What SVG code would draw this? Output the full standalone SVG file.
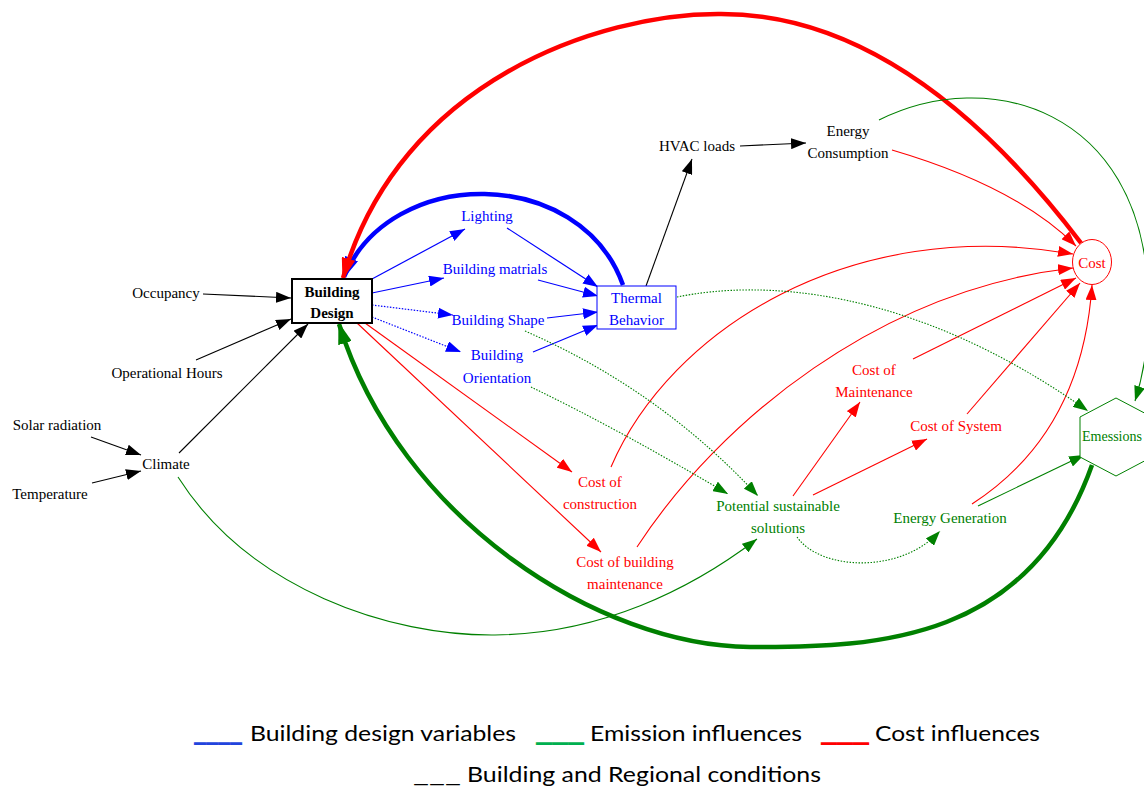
<svg xmlns="http://www.w3.org/2000/svg" width="1144" height="787" viewBox="0 0 1144 787">
<style>
text{font-family:"Liberation Serif","Times New Roman",serif;font-size:15px;text-anchor:middle}
.k{fill:#000}.b{fill:#0000ff}.r{fill:#ff0000}.g{fill:#008000}
.c path{fill:none}
.sk{stroke:#000;stroke-width:1.1}
.sb{stroke:#0000ff;stroke-width:1.2}
.sr{stroke:#ff0000;stroke-width:1.1}
.sg{stroke:#008000;stroke-width:1.1}
.dot{stroke-dasharray:1.5 1.5}
.lg{font-family:Lato,"Open Sans",sans-serif;font-size:22px;text-anchor:start}
.us{stroke-width:1.6}
</style>
<defs>
<marker id="ak" viewBox="0 0 15 11" refX="15" refY="5.5" markerWidth="15" markerHeight="11" markerUnits="userSpaceOnUse" orient="auto"><path d="M0,0L15,5.5L0,11z" fill="#000"/></marker>
<marker id="ab" viewBox="0 0 15 11" refX="15" refY="5.5" markerWidth="15" markerHeight="11" markerUnits="userSpaceOnUse" orient="auto"><path d="M0,0L15,5.5L0,11z" fill="#0000ff"/></marker>
<marker id="ar" viewBox="0 0 15 11" refX="15" refY="5.5" markerWidth="15" markerHeight="11" markerUnits="userSpaceOnUse" orient="auto"><path d="M0,0L15,5.5L0,11z" fill="#ff0000"/></marker>
<marker id="ag" viewBox="0 0 15 11" refX="15" refY="5.5" markerWidth="15" markerHeight="11" markerUnits="userSpaceOnUse" orient="auto"><path d="M0,0L15,5.5L0,11z" fill="#008000"/></marker>
<marker id="abB" viewBox="0 0 22 14" refX="20" refY="7" markerWidth="22" markerHeight="14" markerUnits="userSpaceOnUse" orient="auto"><path d="M0,0L22,7L0,14z" fill="#0000ff"/></marker>
<marker id="arB" viewBox="0 0 22 14" refX="20" refY="7" markerWidth="22" markerHeight="14" markerUnits="userSpaceOnUse" orient="auto"><path d="M0,0L22,7L0,14z" fill="#ff0000"/></marker>
<marker id="agB" viewBox="0 0 22 14" refX="20" refY="7" markerWidth="22" markerHeight="14" markerUnits="userSpaceOnUse" orient="auto"><path d="M0,0L22,7L0,14z" fill="#008000"/></marker>
</defs>
<rect width="1144" height="787" fill="#fff"/>

<g id="connectors" class="c">
<path class="sk" d="M203,294 L291,298" marker-end="url(#ak)"/>
<path class="sk" d="M196,360 L291,319" marker-end="url(#ak)"/>
<path class="sk" d="M179,453 L308,324" marker-end="url(#ak)"/>
<path class="sk" d="M91,437 L141,455" marker-end="url(#ak)"/>
<path class="sk" d="M92,483 L141,471" marker-end="url(#ak)"/>
<path class="sk" d="M646,286 L692,159" marker-end="url(#ak)"/>
<path class="sk" d="M740,146 L806,143" marker-end="url(#ak)"/>

<path class="sb" d="M372,279 L465,229" marker-end="url(#ab)"/>
<path class="sb" d="M372,293 L444,278" marker-end="url(#ab)"/>
<path class="sb dot" d="M372,305 L453,315" marker-end="url(#ab)"/>
<path class="sb dot" d="M372,317 L461,352" marker-end="url(#ab)"/>
<path class="sb" d="M507,228 L598,287" marker-end="url(#ab)"/>
<path class="sb" d="M538,280 L598,296" marker-end="url(#ab)"/>
<path class="sb" d="M547,318 L598,312" marker-end="url(#ab)"/>
<path class="sb" d="M533,352 L598,325" marker-end="url(#ab)"/>
<path d="M623,285 C580,165 390,165 344,277" stroke="#0000ff" stroke-width="4.5" marker-end="url(#abB)"/>

<path d="M1081,243 Q905,12 718,14 C600,14 400,80 343,278" stroke="#ff0000" stroke-width="4.5" marker-end="url(#arB)"/>
<path class="sr" d="M357,323 L601,552" marker-end="url(#ar)"/>
<path class="sr" d="M365,323 L572,472" marker-end="url(#ar)"/>
<path class="sr" d="M611,467 C670,330 850,215 1073,254" marker-end="url(#ar)"/>
<path class="sr" d="M637,547 C720,420 880,290 1073,268" marker-end="url(#ar)"/>
<path class="sr" d="M892,150 C960,170 1030,200 1076,246" marker-end="url(#ar)"/>
<path class="sr" d="M793,496 L860,402" marker-end="url(#ar)"/>
<path class="sr" d="M813,495 L927,439" marker-end="url(#ar)"/>
<path class="sr" d="M913,359 L1076,278" marker-end="url(#ar)"/>
<path class="sr" d="M967,414 L1080,283" marker-end="url(#ar)"/>
<path class="sr" d="M972,504 C1040,460 1085,390 1092,285" marker-end="url(#ar)"/>

<path d="M1092,465 C1030,640 880,648 750,647 C600,646 400,520 339,324" stroke="#008000" stroke-width="4.5" marker-end="url(#agB)"/>
<path class="sg" d="M178,477 C250,590 390,636 495,635 C600,634 690,590 757,539" marker-end="url(#ag)"/>
<path class="sg" d="M879,120 C990,65 1140,110 1148,290 C1150,330 1145,370 1135,401" marker-end="url(#ag)"/>
<path class="sg dot" d="M677,297 C760,280 910,285 1088,411" marker-end="url(#ag)"/>
<path class="sg dot" d="M525,331 Q660,390 758,496" marker-end="url(#ag)"/>
<path class="sg dot" d="M531,387 Q620,430 728,494" marker-end="url(#ag)"/>
<path class="sg dot" d="M797,537 C820,570 900,575 940,531" marker-end="url(#ag)"/>
<path class="sg" d="M978,506 L1084,455" marker-end="url(#ag)"/>
</g>

<g id="building-design">
<rect x="292" y="279" width="80" height="44" fill="#fff" stroke="#000" stroke-width="2"/>
<text x="332" y="297" class="k" font-weight="bold">Building</text>
<text x="332" y="318" class="k" font-weight="bold">Design</text>
</g>
<g id="occupancy"><text x="166" y="298" class="k">Occupancy</text></g>
<g id="operational-hours"><text x="167" y="378" class="k">Operational Hours</text></g>
<g id="solar-radiation"><text x="57" y="430" class="k">Solar radiation</text></g>
<g id="temperature"><text x="50" y="499" class="k">Temperature</text></g>
<g id="climate"><text x="166" y="469" class="k">Climate</text></g>
<g id="lighting"><text x="487" y="221" class="b">Lighting</text></g>
<g id="building-matrials"><text x="495" y="274" class="b">Building matrials</text></g>
<g id="building-shape"><text x="498" y="325" class="b">Building Shape</text></g>
<g id="building-orientation"><text x="497" y="360" class="b">Building</text><text x="497" y="383" class="b">Orientation</text></g>
<g id="thermal-behavior">
<rect x="597" y="286" width="79" height="43" fill="#fff" stroke="#0000ff" stroke-width="1"/>
<text x="636.5" y="303" class="b">Thermal</text>
<text x="636.5" y="325" class="b">Behavior</text>
</g>
<g id="hvac-loads"><text x="697" y="151" class="k">HVAC loads</text></g>
<g id="energy-consumption"><text x="848" y="136" class="k">Energy</text><text x="848" y="158" class="k">Consumption</text></g>
<g id="cost">
<ellipse cx="1092" cy="262" rx="19.5" ry="22.5" fill="#fff" stroke="#ff0000" stroke-width="1"/>
<text x="1092" y="268" class="r">Cost</text>
</g>
<g id="emessions">
<polygon points="1116,398 1152,417 1152,457 1116,476 1080,457 1080,417" fill="#fff" stroke="#008000" stroke-width="1"/>
<text x="1082" y="441" class="g" style="text-anchor:start" textLength="60" lengthAdjust="spacingAndGlyphs">Emessions</text>
</g>
<g id="cost-of-construction"><text x="600" y="487" class="r">Cost of</text><text x="600" y="509" class="r">construction</text></g>
<g id="cost-of-building-maintenance"><text x="625" y="567" class="r">Cost of building</text><text x="625" y="589" class="r">maintenance</text></g>
<g id="potential-sustainable-solutions"><text x="778" y="511" class="g">Potential sustainable</text><text x="778" y="533" class="g">solutions</text></g>
<g id="energy-generation"><text x="950" y="523" class="g">Energy Generation</text></g>
<g id="cost-of-maintenance"><text x="874" y="375" class="r">Cost of</text><text x="874" y="397" class="r">Maintenance</text></g>
<g id="cost-of-system"><text x="956" y="431" class="r">Cost of System</text></g>

<g id="legend">
<text x="194" y="741" class="lg us" fill="#2244dd" stroke="#2244dd" textLength="48" lengthAdjust="spacingAndGlyphs">____</text>
<text x="250" y="741" class="lg" textLength="266" lengthAdjust="spacingAndGlyphs">Building design variables</text>
<text x="536" y="741" class="lg us" fill="#00b050" stroke="#00b050" textLength="48" lengthAdjust="spacingAndGlyphs">___</text>
<text x="590" y="741" class="lg" textLength="212" lengthAdjust="spacingAndGlyphs">Emission influences</text>
<text x="821" y="741" class="lg us" fill="#ff0000" stroke="#ff0000" textLength="48" lengthAdjust="spacingAndGlyphs">___</text>
<text x="875" y="741" class="lg" textLength="165" lengthAdjust="spacingAndGlyphs">Cost influences</text>
<text x="413" y="782" class="lg" textLength="48" lengthAdjust="spacingAndGlyphs">___</text>
<text x="467" y="782" class="lg" textLength="354" lengthAdjust="spacingAndGlyphs">Building and Regional conditions</text>
</g>
</svg>
